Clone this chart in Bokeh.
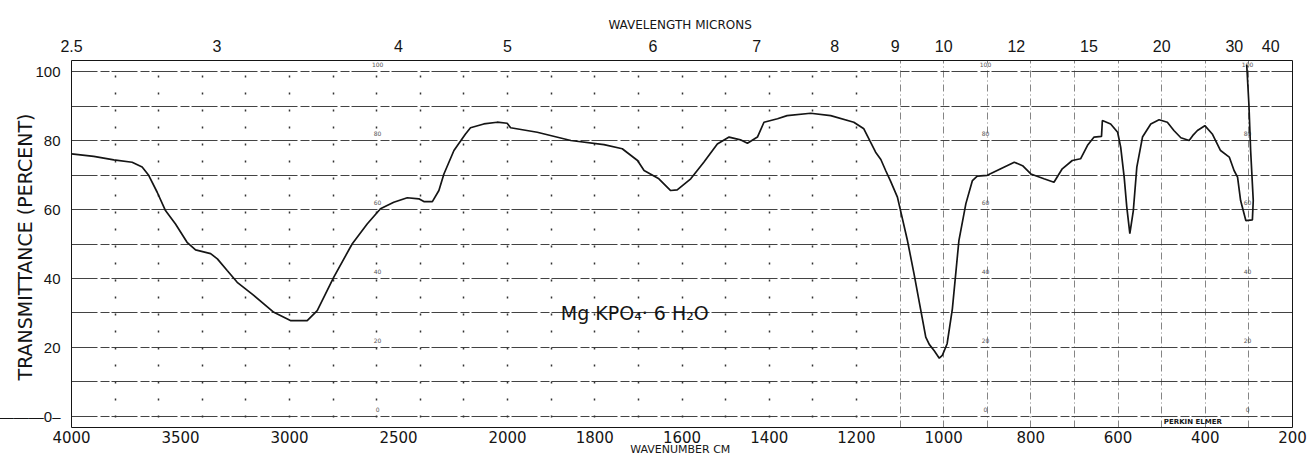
import numpy as np
from bokeh.plotting import figure
from bokeh.models import (Range1d, LinearAxis, FixedTicker, CustomJSTickFormatter,
                          Grid, Label, ColumnDataSource)
from bokeh.core.properties import value
from bokeh.embed import file_html
from bokeh.resources import INLINE

# ---------------- data ----------------
wavenumber = [4000, 3898, 3806, 3722, 3676, 3646, 3607, 3569, 3523, 3470, 3431, 3362, 3331,
              3286, 3240, 3164, 3072, 2996, 2919, 2873, 2797, 2713, 2644, 2583, 2522, 2460,
              2407, 2384, 2345, 2315, 2292, 2246, 2193, 2170, 2109, 2048, 2002, 1993, 1932,
              1855, 1779, 1737, 1702, 1687, 1653, 1626, 1611, 1580, 1550, 1519, 1492, 1466,
              1450, 1427, 1412, 1381, 1359, 1305, 1259, 1206, 1183, 1156, 1144, 1133, 1122,
              1106, 1083, 1068, 1053, 1041, 1033, 1022, 1010, 1003, 992, 980, 965, 949, 934,
              923, 900, 869, 838, 819, 800, 770, 747, 728, 705, 686, 670, 655, 638, 636, 617,
              601, 594, 586, 580, 573, 565, 557, 544, 525, 506, 487, 472, 456, 437, 429, 418,
              401, 384, 365, 345, 334, 326, 319, 307, 292, 290, 296, 300, 305]
transmittance = [76.1, 75.4, 74.4, 73.7, 72.3, 69.9, 65.0, 59.7, 55.8, 50.5, 48.3, 47.2, 45.7,
                 42.3, 38.9, 35.1, 30.2, 27.8, 27.8, 30.7, 40.4, 50.0, 55.8, 60.2, 62.1, 63.4,
                 63.1, 62.3, 62.3, 65.5, 70.3, 77.1, 81.9, 83.7, 84.8, 85.3, 85.0, 83.7, 82.4,
                 80.0, 78.8, 77.6, 74.2, 71.3, 68.9, 65.5, 65.7, 68.9, 73.7, 79.0, 81.0, 80.2,
                 79.2, 81.0, 85.3, 86.3, 87.2, 87.9, 87.2, 85.3, 83.4, 76.6, 74.5, 71.3, 68.3,
                 63.6, 51.0, 41.4, 31.2, 23.0, 20.9, 19.1, 16.9, 17.7, 21.1, 31.2, 51.0, 61.7, 68.4,
                 69.7, 69.9, 71.8, 73.7, 72.7, 70.3, 68.9, 67.9, 71.8, 74.2, 74.7, 78.6, 81.0, 81.2, 85.8, 84.8,
                 82.4, 78.1, 69.4, 60.7, 53.0, 59.7, 72.3, 81.0, 84.8, 86.0, 85.3, 82.9, 80.8, 80.0, 81.4, 82.9,
                 84.3, 81.9, 77.1, 75.2, 71.3, 69.4, 62.6, 56.8, 57.0, 62.6, 77.1, 90.6, 102.0]

wavenumber_ticks = [4000, 3500, 3000, 2500, 2000, 1800, 1600, 1400, 1200, 1000, 800, 600, 400, 200]
wavenumber_tick_labels = [str(w) for w in wavenumber_ticks]
micron_ticks = [2.5, 3, 4, 5, 6, 7, 8, 9, 10, 12, 15, 20, 30, 40]
micron_tick_labels = ["2.5", "3", "4", "5", "6", "7", "8", "9", "10", "12", "15", "20", "30", "40"]
percent_ticks = [0, 20, 40, 60, 80, 100]
percent_tick_labels = ["\u2014\u2014\u20140\u2013", "20", "40", "60", "80", "100"]
percent_grid = [0, 10, 20, 30, 40, 50, 60, 70, 80, 90, 100]
dotted_grid_wn = [3800, 3600, 3400, 3200, 3000, 2800, 2600, 2400, 2200, 2000,
                  1900, 1800, 1700, 1600, 1500, 1400, 1300, 1200]
dashed_grid_wn = [1100, 1000, 900, 800, 700, 600, 500, 400, 300]
paper_scale_wn = [2596, 904, 303]
paper_scale_values = [100, 80, 60, 40, 20, 0]
paper_scale_labels = ["100", "80", "60", "40", "20", "0"]


def to_u(wn):
    """Perkin-Elmer chart abscissa: scale doubles below 2000 cm-1."""
    wn = np.asarray(wn, dtype=float)
    return np.where(wn >= 2000, (4000.0 - wn) / 2.0, 3000.0 - wn)


def tick_formatter(tick_values, labels):
    return CustomJSTickFormatter(args=dict(tvals=[float(t) for t in tick_values], tlabels=labels), code="""
        for (let i = 0; i < tvals.length; i++) {
            if (Math.abs(tvals[i] - tick) < 1e-6) { return tlabels[i]; }
        }
        return "";
    """)


def plain_axis(ax):
    ax.axis_line_color = None
    ax.major_tick_line_color = None
    ax.minor_tick_line_color = None
    ax.major_tick_out = 0
    ax.major_tick_in = 0
    ax.minor_tick_out = 0
    ax.minor_tick_in = 0


INK = "#151515"

p = figure(width=1308, height=458, output_backend="svg", toolbar_location=None,
           x_range=Range1d(0, 2800), y_range=Range1d(-3.19, 103.19),
           min_border_left=71, min_border_right=16, min_border_top=60, min_border_bottom=31,
           background_fill_color="white", border_fill_color="white")
p.outline_line_color = INK
p.outline_line_width = 1

# bottom axis: wavenumber
bt = [float(v) for v in to_u(wavenumber_ticks)]
xa = p.xaxis[0]
plain_axis(xa)
xa.ticker = FixedTicker(ticks=bt)
xa.formatter = tick_formatter(bt, wavenumber_tick_labels)
xa.major_label_text_font = "DejaVu Sans"
xa.major_label_text_font_size = "15px"
xa.major_label_text_color = INK
xa.major_label_standoff = 3
xa.axis_label = "WAVENUMBER  CM"
xa.axis_label_text_font = "DejaVu Sans"
xa.axis_label_text_font_size = "11px"
xa.axis_label_text_font_style = "normal"
xa.axis_label_text_color = INK
xa.axis_label_standoff = -3

# top axis: wavelength
tt = [float(v) for v in to_u([10000.0 / m for m in micron_ticks])]
ta = LinearAxis(ticker=FixedTicker(ticks=tt), formatter=tick_formatter(tt, micron_tick_labels),
                axis_label="WAVELENGTH  MICRONS")
plain_axis(ta)
ta.major_label_text_font = "Liberation Sans"
ta.major_label_text_font_size = "16px"
ta.major_label_text_color = INK
ta.major_label_standoff = 9
ta.axis_label_text_font = "DejaVu Sans"
ta.axis_label_text_font_size = "12px"
ta.axis_label_text_font_style = "normal"
ta.axis_label_text_color = INK
ta.axis_label_standoff = 5
p.add_layout(ta, "above")

# left axis: transmittance
ya = p.yaxis[0]
plain_axis(ya)
ya.ticker = FixedTicker(ticks=percent_ticks)
ya.formatter = tick_formatter(percent_ticks, percent_tick_labels)
ya.major_label_text_font = "Liberation Sans"
ya.major_label_text_font_size = "15px"
ya.major_label_text_color = INK
ya.major_label_standoff = 11
ya.axis_label = "TRANSMITTANCE  (PERCENT)"
ya.axis_label_text_font = "DejaVu Sans"
ya.axis_label_text_font_size = "19px"
ya.axis_label_text_font_style = "normal"
ya.axis_label_text_color = INK
ya.axis_label_standoff = -40

# chart-paper grid
p.xgrid.visible = False
p.ygrid.ticker = FixedTicker(ticks=percent_grid)
p.ygrid.grid_line_color = "#222222"
p.ygrid.grid_line_alpha = 0.85
p.ygrid.grid_line_width = 1
p.ygrid.grid_line_dash = "26 3 9 2"

p.add_layout(Grid(dimension=0, ticker=FixedTicker(ticks=[float(v) for v in to_u(dotted_grid_wn)]),
                  grid_line_color="#333333", grid_line_width=1.5, grid_line_dash="2 15",
                  grid_line_dash_offset=7))
p.add_layout(Grid(dimension=0, ticker=FixedTicker(ticks=[float(v) for v in to_u(dashed_grid_wn)]),
                  grid_line_color="#333333", grid_line_alpha=0.6, grid_line_width=1,
                  grid_line_dash="7 3 1 3"))

# small printed percent scales on the paper
ps_x, ps_y, ps_t = [], [], []
for w in paper_scale_wn:
    for v, t in zip(paper_scale_values, paper_scale_labels):
        ps_x.append(float(to_u(w)))
        ps_y.append(v + 1.9)
        ps_t.append(t)
p.text(x=ps_x, y=ps_y, text=ps_t, text_font=value("DejaVu Sans"), text_font_size="6px",
       text_color="#555555", text_align="center", text_baseline="middle")

# spectrum trace
src = ColumnDataSource(data=dict(u=to_u(wavenumber), T=transmittance))
p.line(x="u", y="T", source=src, line_color=INK, line_width=1.7)

# annotations
p.add_layout(Label(x=float(to_u(1878)), y=30.1, text="Mg KPO\u2084\u00b7 6 H\u2082O",
                   text_font="DejaVu Sans", text_font_size="19px", text_color=INK,
                   text_align="left", text_baseline="alphabetic"))
p.add_layout(Label(x=float(to_u(495)), y=-1.6, text="PERKIN ELMER",
                   text_font="DejaVu Sans", text_font_size="7px", text_font_style="bold",
                   text_color=INK, text_align="left", text_baseline="middle"))

open("out.html", "w").write(file_html(p, INLINE))
